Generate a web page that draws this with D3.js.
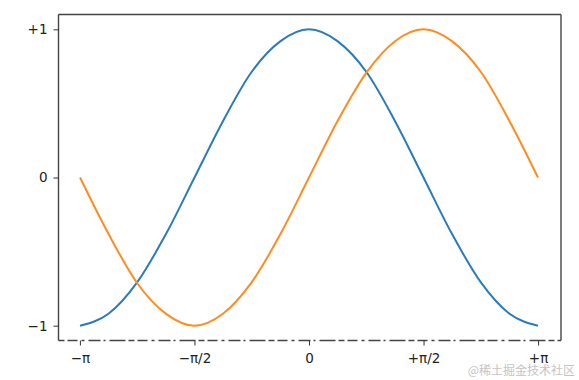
<!DOCTYPE html>
<html>
<head>
<meta charset="utf-8">
<script src="https://cdn.jsdelivr.net/npm/d3@7"></script>
<style>
  body { margin: 0; background: #fff; }
  svg { display: block; }
  .tick text { font-family: "DejaVu Sans", sans-serif; font-size: 13.5px; fill: #222; }
  .tick line { stroke: #333; }
  .domain { display: none; }
</style>
</head>
<body>
<div id="chart"></div>
<script>
// sample points (x in radians)
const xs = [-3.14, -2.75, -2.36, -1.96, -1.57, -1.18, -0.79, -0.39, 0,
  0.39, 0.79, 1.18, 1.57, 1.96, 2.36, 2.75, 3.14]
const cosVals = [-1, -0.92, -0.71, -0.38, 0, 0.38, 0.71, 0.92, 1,
  0.92, 0.71, 0.38, 0, -0.38, -0.71, -0.92, -1]
const sinVals = [0, -0.38, -0.71, -0.92, -1, -0.92, -0.71, -0.38, 0,
  0.38, 0.71, 0.92, 1, 0.92, 0.71, 0.38, 0]

const xTicks = [-3.14159, -1.5708, 0, 1.5708, 3.14159]
const xTickLabels = ['−π', '−π/2', '0', '+π/2', '+π']
const yTicks = [-1, 0, 1]
const yTickLabels = ['−1', '0', '+1']

const width = 579
const height = 380
const box = { left: 58.5, right: 561, top: 14.5, bottom: 340.5 }

const svg = d3.select('#chart').append('svg')
  .attr('width', width)
  .attr('height', height)

svg.append('rect')
  .attr('width', width).attr('height', height)
  .attr('fill', '#fff')

const x = d3.scaleLinear()
  .domain([-3.14159 * 1.1, 3.14159 * 1.1])
  .range([box.left - 1.5, box.right])
const y = d3.scaleLinear()
  .domain([-1.1, 1.1])
  .range([box.bottom, box.top])

const line = d3.line()
  .curve(d3.curveMonotoneX)
  .x((d, i) => x(xs[i]))
  .y(d => y(d))

svg.append('path')
  .attr('d', line(cosVals))
  .attr('fill', 'none')
  .attr('stroke', '#2b7bba')
  .attr('stroke-width', 2)

svg.append('path')
  .attr('d', line(sinVals))
  .attr('fill', 'none')
  .attr('stroke', '#ff8c1f')
  .attr('stroke-width', 2)

// frame (bottom spine looks broken in the picture)
const spine = (x1, y1, x2, y2) => svg.append('line')
  .attr('x1', x1).attr('y1', y1).attr('x2', x2).attr('y2', y2)
  .attr('stroke', '#444').attr('stroke-width', 1.4)
spine(box.left, box.top, box.right, box.top)
spine(box.left, box.top, box.left, box.bottom)
spine(box.right, box.top, box.right, box.bottom)
spine(box.left, box.bottom, box.right, box.bottom)
  .attr('stroke-dasharray', '6,3,10,4,3,4,12,3,2,4,16,3')

// x-axis
svg.append('g')
    .attr('class', 'axis x-axis')
    .attr('transform', `translate(0,${box.bottom})`)
    .call(d3.axisBottom(x)
      .tickValues(xTicks)
      .tickFormat((d, i) => xTickLabels[i])
      .tickSize(5)
      .tickPadding(8))

// y-axis
svg.append('g')
    .attr('class', 'axis y-axis')
    .attr('transform', `translate(${box.left},0)`)
    .call(d3.axisLeft(y)
      .tickValues(yTicks)
      .tickFormat(d => yTickLabels[yTicks.indexOf(d)])
      .tickSize(5)
      .tickPadding(6))

// watermark
svg.append('text')
  .attr('x', 575)
  .attr('y', 375)
  .attr('text-anchor', 'end')
  .attr('font-family', '"Noto Sans CJK SC", sans-serif')
  .attr('font-size', 12)
  .attr('fill', '#c4c4c4')
  .text('@稀土掘金技术社区')
</script>
</body>
</html>
